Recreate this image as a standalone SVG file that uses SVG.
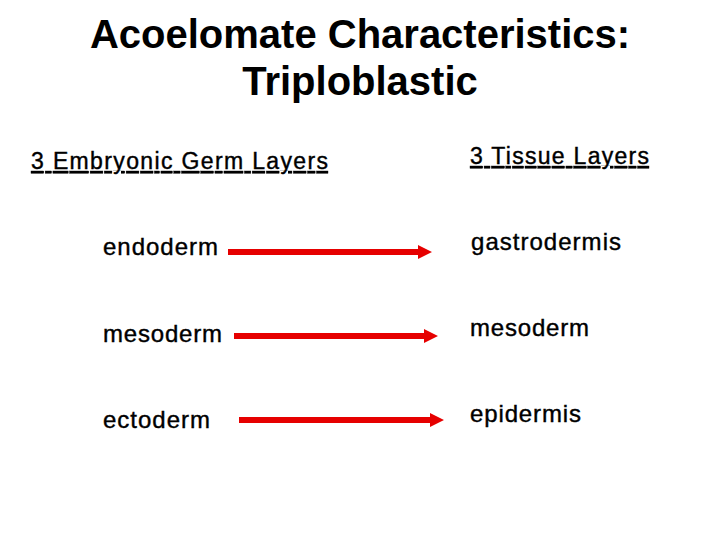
<svg xmlns="http://www.w3.org/2000/svg" width="720" height="540" viewBox="0 0 720 540">
<defs>
<style>
text{font-family:"Liberation Sans",Arial,sans-serif;fill:#000}
.title{font-size:40px;font-weight:bold;text-anchor:middle}
.head{font-size:23px;text-decoration:underline;stroke:#000;stroke-width:0.4}
.lbl{font-size:24px;stroke:#000;stroke-width:0.4}
.arr{fill:#e60000;stroke:none}
</style>
</defs>
<rect width="720" height="540" fill="#fff"/>
<g id="title">
<text class="title" x="360" y="48">Acoelomate Characteristics:</text>
<text class="title" x="360" y="95">Triploblastic</text>
</g>
<g id="head-left"><text class="head" x="31" y="169" textLength="297" lengthAdjust="spacing">3 Embryonic Germ Layers</text></g>
<g id="head-right"><text class="head" x="470" y="164" textLength="179" lengthAdjust="spacing">3 Tissue Layers</text></g>
<g id="endoderm"><text class="lbl" x="103" y="255" textLength="115" lengthAdjust="spacing">endoderm</text></g>
<g id="mesoderm-left"><text class="lbl" x="103" y="342" textLength="119" lengthAdjust="spacing">mesoderm</text></g>
<g id="ectoderm"><text class="lbl" x="103" y="428" textLength="107" lengthAdjust="spacing">ectoderm</text></g>
<g id="gastrodermis"><text class="lbl" x="471" y="250" textLength="150" lengthAdjust="spacing">gastrodermis</text></g>
<g id="mesoderm-right"><text class="lbl" x="470" y="336" textLength="119" lengthAdjust="spacing">mesoderm</text></g>
<g id="epidermis"><text class="lbl" x="470" y="422" textLength="111" lengthAdjust="spacing">epidermis</text></g>
<g id="connectors">
<polygon class="arr" points="228,249 418,249 418,245 432,252 418,259 418,255 228,255"/>
<polygon class="arr" points="234,333 424,333 424,329 438,336 424,343 424,339 234,339"/>
<polygon class="arr" points="239,417 430,417 430,413 444,420 430,427 430,423 239,423"/>
</g>
</svg>
